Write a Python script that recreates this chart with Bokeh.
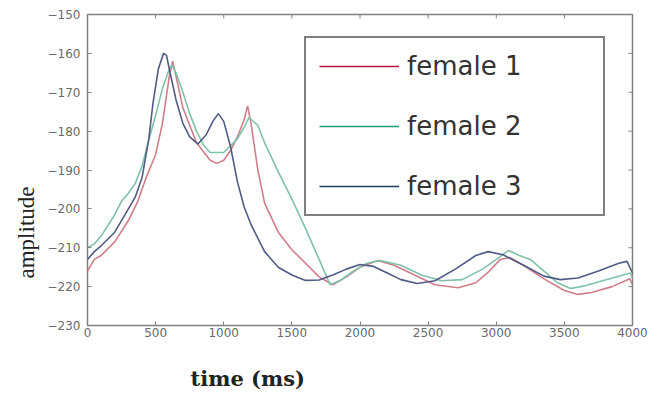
import math
from bokeh.plotting import figure
from bokeh.models import Range1d, FixedTicker, Legend, LegendItem, Title, LinearAxis
from bokeh.embed import file_html
from bokeh.resources import INLINE

# ---- data ----
names = ["female 1", "female 2", "female 3"]

t1 = [0, 50, 100, 200, 300, 370, 430, 500, 550, 600, 625, 650, 700, 800, 900, 950, 1000, 1050, 1100,
      1150, 1175, 1200, 1250, 1300, 1400, 1500, 1600, 1700, 1800, 1900, 2000, 2130, 2250, 2400, 2550,
      2720, 2850, 2950, 3030, 3100, 3200, 3350, 3500, 3600, 3700, 3850, 3980, 4000]
v1 = [-216, -213, -212, -208.5, -203, -198, -192, -186, -178, -166, -162, -166, -174, -183, -187.5,
      -188.3, -187.5, -185, -181.5, -177, -173.5, -178, -190, -198.5, -206, -210.5, -214, -217.5,
      -219.5, -217.5, -215, -213.3, -214.5, -217, -219.5, -220.3, -219, -216, -213, -212.5, -214.5,
      -218, -221, -222, -221.5, -220, -218, -219.5]

t2 = [0, 50, 100, 200, 250, 300, 350, 400, 460, 500, 550, 600, 620, 650, 700, 750, 800, 850, 900,
      1000, 1100, 1150, 1185, 1250, 1300, 1400, 1500, 1600, 1700, 1780, 1850, 1950, 2050, 2150, 2300,
      2450, 2600, 2750, 2900, 3000, 3090, 3170, 3250, 3350, 3450, 3545, 3650, 3800, 3950, 3985, 4000]
v2 = [-210, -209, -207, -201.5, -198, -196, -193.5, -189, -181, -176, -169, -164, -163, -165, -170,
      -175.5, -180, -183.5, -185.5, -185.5, -182, -179, -176.5, -178.5, -183, -190.5, -197.5, -205,
      -213, -219.5, -218.5, -216, -214, -213.3, -214.5, -217, -218.5, -218.2, -215.5, -213, -210.7,
      -212, -213, -216, -219, -220.5, -219.8, -218.3, -216.8, -216.5, -218]

t3 = [0, 50, 100, 200, 300, 350, 400, 450, 480, 520, 558, 580, 600, 650, 700, 750, 810, 870, 920,
      960, 1000, 1050, 1100, 1150, 1200, 1300, 1400, 1500, 1600, 1700, 1800, 1900, 2000, 2100, 2200,
      2300, 2420, 2550, 2700, 2850, 2940, 3050, 3200, 3350, 3470, 3600, 3750, 3900, 3960, 4000]
v3 = [-213, -211, -209.5, -206, -200, -197, -192, -182, -173, -164, -160, -160.5, -164, -172, -178,
      -181.5, -183.3, -181, -177.5, -175.5, -177.5, -184, -193, -199.5, -204, -211, -215, -217,
      -218.4, -218.3, -217, -215.5, -214.3, -214.8, -216.5, -218.2, -219.2, -218.5, -215.5, -212,
      -211, -211.8, -214.5, -217.3, -218.2, -217.8, -216, -214, -213.5, -216.5]

x_ticks = [0, 500, 1000, 1500, 2000, 2500, 3000, 3500, 4000]
y_ticks = [-230, -220, -210, -200, -190, -180, -170, -160, -150]
x_min, x_max = 0, 4000
y_min, y_max = -230, -150

curve_colors = ["#d07d8a", "#7fc2a8", "#505b86"]
legend_colors = ["#c0123e", "#1f9e78", "#1f3d5e"]
axis_gray = "#808080"

# ---- figure ----
p = figure(width=653, height=392, output_backend="svg", toolbar_location=None,
           x_range=Range1d(x_min, x_max), y_range=Range1d(y_min, y_max),
           min_border_left=87, min_border_right=21, min_border_top=14, min_border_bottom=67)
p.background_fill_color = "white"
p.border_fill_color = "white"
p.grid.visible = False
p.outline_line_color = axis_gray
p.outline_line_width = 1.5

for ax, ticks, standoff in [(p.xaxis[0], x_ticks, 2), (p.yaxis[0], y_ticks, 7)]:
    ax.ticker = FixedTicker(ticks=ticks)
    ax.axis_line_color = None
    ax.major_tick_in = 4
    ax.major_tick_out = 0
    ax.major_tick_line_color = axis_gray
    ax.minor_tick_line_color = None
    ax.major_label_text_font = "DejaVu Sans"
    ax.major_label_text_color = "#6a6a6a"
    ax.major_label_text_font_size = "12px"
    ax.major_label_standoff = standoff

# blank spacer axis between the tick labels and the x title (one white tick, empty label)
spacer = LinearAxis(ticker=FixedTicker(ticks=[x_min]), axis_line_color=None,
                    major_tick_in=0, major_tick_out=22, minor_tick_line_color=None,
                    major_tick_line_color="white", major_label_standoff=0,
                    major_label_overrides={x_min: ""})
p.add_layout(spacer, "below")

# inward ticks on the top and right edges of the box
p.scatter(x=x_ticks, y=[y_max] * len(x_ticks), marker="dash", size=8, angle=math.pi / 2,
          line_color=axis_gray, line_width=1)
p.scatter(x=[x_max] * len(y_ticks), y=y_ticks, marker="dash", size=8,
          line_color=axis_gray, line_width=1)

leg_r = []
for t, v, lc, cc in zip([t1, t2, t3], [v1, v2, v3], legend_colors, curve_colors):
    p.line(t, v, line_color=cc, line_width=1.6)
    leg_r.append(p.line(t, v, line_color=lc, line_width=1.6, visible=False))

legend = Legend(items=[LegendItem(label=n, renderers=[r]) for n, r in zip(names, leg_r)],
                location=(217, 109), margin=0, padding=13, spacing=30,
                glyph_width=80, glyph_height=30, label_height=30, label_width=183,
                label_standoff=8, label_text_font="DejaVu Sans", label_text_font_size="26px",
                label_text_color="#333333",
                border_line_color="black", border_line_width=2,
                background_fill_color="white", background_fill_alpha=1.0)
p.add_layout(legend)

p.add_layout(Title(text="amplitude", align="left", offset=47, standoff=12,
                   text_font="Liberation Serif", text_font_size="23px", text_font_style="normal",
                   text_color="#222222"), "left")
p.add_layout(Title(text="time (ms)", align="left", offset=103, standoff=4,
                   text_font="DejaVu Serif", text_font_size="21px", text_font_style="bold",
                   text_color="#222222"), "below")

open("out.html", "w").write(file_html(p, INLINE))
